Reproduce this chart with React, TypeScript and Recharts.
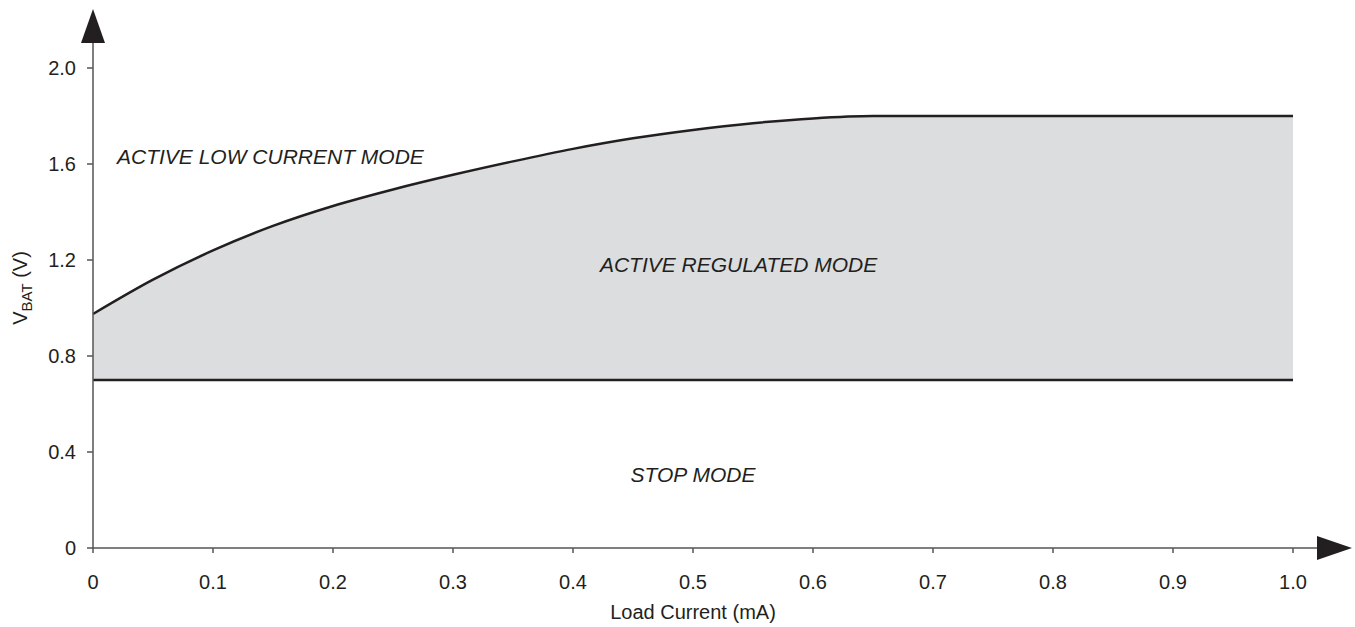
import React from 'react';
import { ComposedChart, Area, Line, XAxis, YAxis, ReferenceDot } from 'recharts';

// load current (mA) sample points along the boundary curve
const current = [0, 0.05, 0.1, 0.15, 0.2, 0.25, 0.3, 0.35, 0.4, 0.45, 0.5, 0.55, 0.6, 0.65, 0.7, 0.8, 0.9, 1.0];
// upper boundary: active low current / active regulated
const upperBound = [0.975, 1.118, 1.24, 1.342, 1.425, 1.494, 1.555, 1.611, 1.663, 1.707, 1.742, 1.77, 1.79, 1.8, 1.8, 1.8, 1.8, 1.8];
// lower boundary: active regulated / stop
const lowerBound = [0.7, 0.7, 0.7, 0.7, 0.7, 0.7, 0.7, 0.7, 0.7, 0.7, 0.7, 0.7, 0.7, 0.7, 0.7, 0.7, 0.7, 0.7];

const xTicks = [0, 0.1, 0.2, 0.3, 0.4, 0.5, 0.6, 0.7, 0.8, 0.9, 1.0];
const yTicks = [0, 0.4, 0.8, 1.2, 1.6, 2.0];

const modeLabels = [
  { text: 'ACTIVE LOW CURRENT MODE', x: 0.02, y: 1.63, anchor: 'start' },
  { text: 'ACTIVE REGULATED MODE', x: 0.538, y: 1.183, anchor: 'middle' },
  { text: 'STOP MODE', x: 0.5, y: 0.307, anchor: 'middle' },
];

const data = current.map((x, i) => ({
  x,
  upper: upperBound[i],
  lower: lowerBound[i],
  band: [lowerBound[i], upperBound[i]],
}));

const W = 1355;
const H = 627;
const M = { top: 68, right: 62, bottom: 39, left: 33 };
const Y_AXIS_W = 60;
const X_AXIS_H = 40;
const INK = '#231f20';
const AXIS = '#555555';
const FONT = '"Liberation Sans", Arial, Helvetica, sans-serif';

const plotLeft = M.left + Y_AXIS_W;
const plotRight = W - M.right;
const plotBottom = H - M.bottom - X_AXIS_H;

const fmt = (v: number) => (v === 0 ? '0' : v.toFixed(1));

const YLabel = () => (
  <text
    transform="translate(27, 288) rotate(-90)"
    textAnchor="middle"
    fill={INK}
    fontSize={20}
    fontFamily={FONT}
  >
    <tspan>V</tspan>
    <tspan fontSize={15} dy={5}>BAT</tspan>
    <tspan dy={-5}> (V)</tspan>
  </text>
);

const XLabel = (props: any) => {
  const vb = props.viewBox;
  return (
    <text
      x={vb.x + vb.width / 2}
      y={vb.y + 71}
      textAnchor="middle"
      fill={INK}
      fontSize={20}
      fontFamily={FONT}
    >
      Load Current (mA)
    </text>
  );
};

export default function App() {
  return (
    <div style={{ position: 'absolute', left: 0, top: 0, width: W, height: H, background: '#fff' }}>
      <ComposedChart width={W} height={H} data={data} margin={M}>
        <XAxis
          dataKey="x"
          type="number"
          domain={[0, 1]}
          ticks={xTicks}
          tickFormatter={fmt}
          height={X_AXIS_H}
          stroke={AXIS}
          strokeWidth={1.5}
          tickSize={5}
          tickMargin={22}
          tick={{ fill: INK, fontSize: 20, fontFamily: FONT }}
          label={<XLabel />}
        />
        <YAxis
          type="number"
          domain={[0, 2]}
          ticks={yTicks}
          tickFormatter={fmt}
          width={Y_AXIS_W}
          stroke={AXIS}
          strokeWidth={1.5}
          tickSize={6}
          tickMargin={11}
          tick={{ fill: INK, fontSize: 20, fontFamily: FONT }}
          label={<YLabel />}
        />
        <Area
          dataKey="band"
          type="monotone"
          fill="#dcdddf"
          fillOpacity={1}
          stroke="none"
          isAnimationActive={false}
        />
        <Line dataKey="upper" type="monotone" stroke={INK} strokeWidth={2.5} dot={false} isAnimationActive={false} />
        <Line dataKey="lower" type="linear" stroke={INK} strokeWidth={2.5} dot={false} isAnimationActive={false} />
        {modeLabels.map((m) => (
          <ReferenceDot
            key={m.text}
            x={m.x}
            y={m.y}
            ifOverflow="visible"
            shape={(p: any) => (
              <text
                x={p.cx}
                y={p.cy}
                textAnchor={m.anchor as any}
                dominantBaseline="central"
                fill={INK}
                fontSize={21}
                fontStyle="italic"
                fontFamily={FONT}
              >
                {m.text}
              </text>
            )}
          />
        ))}
      </ComposedChart>
      <svg
        width={W}
        height={H}
        style={{ position: 'absolute', left: 0, top: 0, pointerEvents: 'none' }}
      >
        <line x1={plotLeft} y1={M.top} x2={plotLeft} y2={M.top - 25} stroke={AXIS} strokeWidth={1.5} />
        <polygon points={`${plotLeft - 12},${M.top - 25} ${plotLeft + 12},${M.top - 25} ${plotLeft},${M.top - 59}`} fill={INK} />
        <line x1={plotRight} y1={plotBottom} x2={plotRight + 24} y2={plotBottom} stroke={AXIS} strokeWidth={1.5} />
        <polygon points={`${plotRight + 24},${plotBottom - 12} ${plotRight + 24},${plotBottom + 12} ${plotRight + 59},${plotBottom}`} fill={INK} />
      </svg>
    </div>
  );
}
